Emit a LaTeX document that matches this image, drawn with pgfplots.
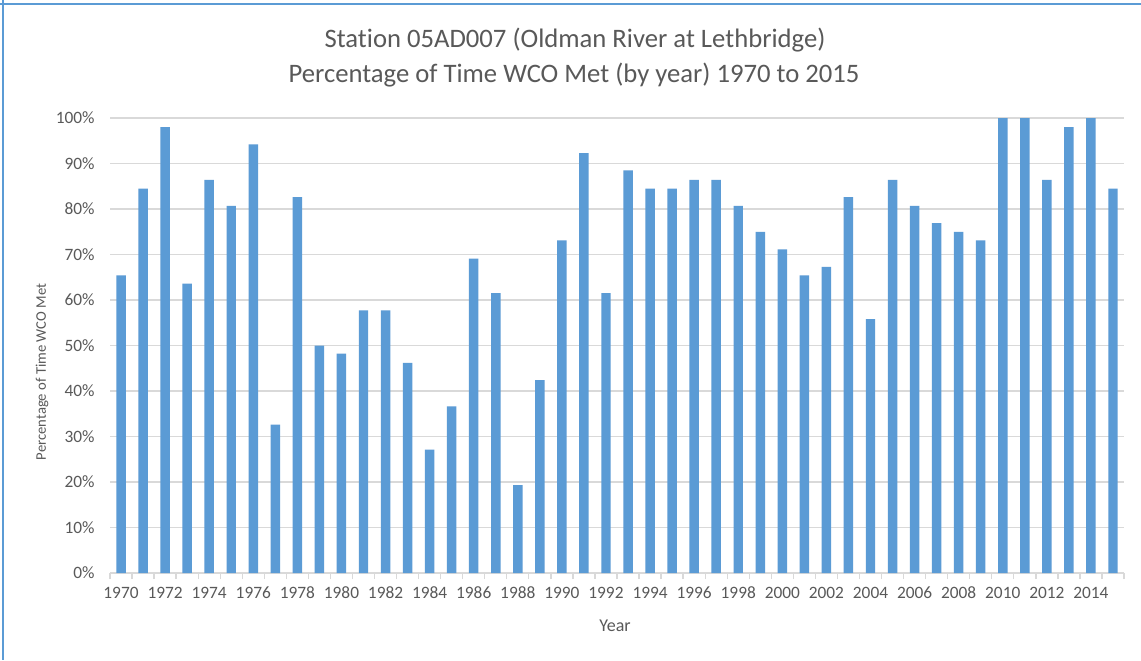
\documentclass[border=0pt]{standalone}
\usepackage{pgfplots}
\pgfplotsset{compat=1.18}
\usepackage{fontspec}
\setmainfont{Carlito}[Ligatures=NoCommon]
\definecolor{barblue}{HTML}{5B9BD5}
\definecolor{gridgray}{HTML}{D9D9D9}
\definecolor{txtgray}{HTML}{595959}
\begin{document}
\begin{tikzpicture}
\useasboundingbox (0,0) rectangle (1141*0.75pt,-660*0.75pt);
\fill[white] (0,0) rectangle (1141*0.75pt,-660*0.75pt);
\draw[barblue, line width=1.5pt] (3*0.75pt,0) -- (3*0.75pt,-660*0.75pt);
\draw[barblue, line width=1.5pt] (0,-4*0.75pt) -- (1141*0.75pt,-4*0.75pt);
\begin{axis}[
  at={(110*0.75pt,-573*0.75pt)}, anchor=south west,
  scale only axis, width=1014*0.75pt, height=455*0.75pt,
  ybar, bar width=7.1pt,
  xmin=1969.5, xmax=2015.5, ymin=0, ymax=100,
  axis x line*=bottom, axis y line*=left,
  y axis line style={draw=none},
  x axis line style={draw=gridgray, line width=1pt},
  ymajorgrids, grid style={gridgray, line width=1pt},
  ytick={0,10,...,100},
  yticklabels={0\%,10\%,20\%,30\%,40\%,50\%,60\%,70\%,80\%,90\%,100\%},
  xtick={1970,1972,...,2014},
  xticklabels={1970,1972,1974,1976,1978,1980,1982,1984,1986,1988,1990,1992,1994,1996,1998,2000,2002,2004,2006,2008,2010,2012,2014},
  minor xtick={1969.5,1970.5,...,2015.5},
  major tick length=0pt, minor tick length=4.5pt,
  tick align=outside,
  minor x tick style={draw=gridgray, line width=1pt},
  ticklabel style={font=\fontsize{13}{15}\selectfont, text=txtgray},
  yticklabel style={xshift=-8pt},
  xticklabel style={yshift=-7pt},
  clip=false,
]
\addplot[fill=barblue, draw=none] coordinates {
(1970,65.4) (1971,84.5) (1972,98.0) (1973,63.6) (1974,86.4) (1975,80.7)
(1976,94.2) (1977,32.6) (1978,82.6) (1979,50.0) (1980,48.2) (1981,57.7)
(1982,57.7) (1983,46.2) (1984,27.1) (1985,36.6) (1986,69.1) (1987,61.5)
(1988,19.3) (1989,42.4) (1990,73.1) (1991,92.3) (1992,61.5) (1993,88.5)
(1994,84.5) (1995,84.5) (1996,86.4) (1997,86.4) (1998,80.7) (1999,75.0)
(2000,71.1) (2001,65.4) (2002,67.3) (2003,82.6) (2004,55.8) (2005,86.4)
(2006,80.7) (2007,76.9) (2008,75.0) (2009,73.1) (2010,100) (2011,100)
(2012,86.4) (2013,98.0) (2014,100) (2015,84.5)
};
\end{axis}
\node[font=\fontsize{20}{24}\selectfont, text=txtgray] at (575*0.75pt,-40*0.75pt) {Station 05AD007 (Oldman River at Lethbridge)};
\node[font=\fontsize{20}{24}\selectfont, text=txtgray] at (574*0.75pt,-75*0.75pt) {Percentage of Time WCO Met (by year) 1970 to 2015};
\node[font=\fontsize{13.5}{16}\selectfont, text=txtgray] at (615*0.75pt,-626*0.75pt) {Year};
\node[font=\fontsize{11}{13}\selectfont, text=txtgray, rotate=90] at (42*0.75pt,-372*0.75pt) {Percentage of Time WCO Met};
\end{tikzpicture}
\end{document}
